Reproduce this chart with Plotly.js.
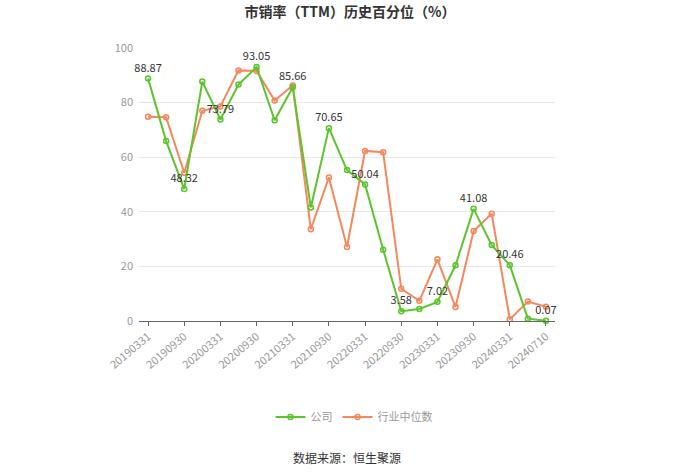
<!DOCTYPE html>
<html><head><meta charset="utf-8">
<script src="https://cdn.plot.ly/plotly-3.0.1.min.js"></script>
<style>html,body{margin:0;padding:0;background:#fff;}#chart{width:700px;height:474px;}</style>
</head><body><div id="chart"></div>
<script>
var dates = ["20190331","20190630","20190930","20191231","20200331","20200630","20200930","20201231","20210331","20210630","20210930","20211231","20220331","20220630","20220930","20221231","20230331","20230630","20230930","20231231","20240331","20240630","20240710"];
var company = [88.87,65.9,48.32,87.7,73.79,86.6,93.05,73.5,85.66,41.6,70.65,55.3,50.04,26.1,3.58,4.4,7.02,20.4,41.08,27.8,20.46,0.85,0.07];
var industry = [74.8,74.6,54.3,77.0,78.6,91.8,91.6,80.8,86.3,33.6,52.6,27.1,62.3,61.8,11.8,7.4,22.6,5.1,33.0,39.3,0.6,7.1,5.2];
var tickDates = ["20190331","20190930","20200331","20200930","20210331","20210930","20220331","20220930","20230331","20230930","20240331","20240710"];
var labelIdx = [0,2,4,6,8,10,12,14,16,18,20,22];

var green = "#5cc42c", orange = "#f5875d";
var fontFam = "'Noto Sans CJK SC', 'Noto Sans', sans-serif";

var labelText = company.map(function(v,i){ return labelIdx.indexOf(i) >= 0 ? v.toFixed(2) : ""; });

var traces = [
 {x: dates, y: industry, name: "行业中位数", type: "scatter", mode: "lines+markers",
  line: {color: orange, width: 2}, marker: {symbol: "circle-open", size: 5, color: orange, line: {width: 1.5}}},
 {x: dates, y: company, name: "公司", type: "scatter", mode: "lines+markers+text",
  text: labelText, textposition: "top center", textfont: {size: 11, color: "#333", family: fontFam},
  line: {color: green, width: 2}, marker: {symbol: "circle-open", size: 5, color: green, line: {width: 1.5}},
  cliponaxis: false}
];

var layout = {
 width: 700, height: 474,
 margin: {l: 139, r: 145, t: 48, b: 153},
 paper_bgcolor: "#fff", plot_bgcolor: "#fff",
 title: {text: "<b>市销率（TTM）历史百分位（%）</b>", x: 0.5, xanchor: "center", y: 0.975, yanchor: "middle",
   font: {size: 14, color: "#333", family: fontFam}},
 xaxis: {type: "category", categoryorder: "array", categoryarray: dates, range: [-0.5, 22.5],
   tickmode: "array", tickvals: tickDates, ticktext: tickDates, tickangle: -40,
   ticks: "outside", ticklen: 4, tickcolor: "#666", showgrid: false, zeroline: false,
   showline: true, linecolor: "#666", linewidth: 1,
   tickfont: {size: 11, color: "#999", family: fontFam}},
 yaxis: {range: [0, 100], tickvals: [0,20,40,60,80,100], showgrid: true, gridcolor: "#e8e8e8",
   zeroline: false, showline: false, ticks: "", ticklen: 0, ticklabelstandoff: 5,
   tickfont: {size: 11, color: "#999", family: fontFam}},
 showlegend: true,
 legend: {orientation: "h", x: 0.5, xanchor: "center", y: 0.12, yref: "paper", yanchor: "middle",
   font: {size: 11, color: "#999", family: fontFam}, traceorder: "reversed", itemwidth: 30},
 annotations: [{text: "数据来源：恒生聚源", xref: "paper", yref: "paper", x: 0.5, y: -0.0,
   xanchor: "center", yanchor: "middle", showarrow: false, font: {size: 12, color: "#333", family: fontFam}}]
};
(function(){
 var plotH = 474 - 48 - 153;
 var plotW = 700 - 139 - 145;
 layout.annotations[0].y = (474 - 153 - 457) / plotH;
 layout.legend.y = (474 - 153 - 417) / plotH;
 layout.legend.x = (354 - 139) / plotW;
})();
Plotly.newPlot("chart", traces, layout, {displayModeBar: false, staticPlot: true});
</script></body></html>
